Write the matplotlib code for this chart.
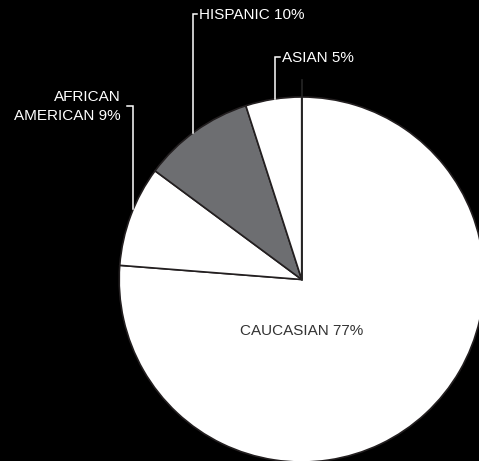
import numpy as np
import matplotlib
matplotlib.use("Agg")
import matplotlib.pyplot as plt

# Ethnic composition
groups = ["CAUCASIAN", "AFRICAN AMERICAN", "HISPANIC", "ASIAN"]
shares = [77, 9, 10, 5]
colors = ["#ffffff", "#ffffff", "#6d6e71", "#ffffff"]

W, H = 479, 461
fig = plt.figure(figsize=(W / 100, H / 100), dpi=100, facecolor="black")
ax = fig.add_axes([0, 0, 1, 1])
ax.set_facecolor("black")

cx, cy, r = 301.7, 279.5, 182.5

# y axis runs downward (pixel-style), so -90 points up and the
# "counterclockwise" direction sweeps clockwise on screen
wedges, _ = ax.pie(shares, colors=colors, startangle=-90, counterclock=True,
                   center=(cx, cy), radius=r, frame=True,
                   wedgeprops=dict(edgecolor="#231f20", linewidth=1.2))
ax.set_xlim(0, W)
ax.set_ylim(H, 0)
ax.set_aspect("equal")
ax.axis("off")

# divider continuing above the pie
ax.plot([cx, cx], [cy, 80], color="#262626", lw=1.2, zorder=3)

font = "Liberation Sans"
fs = 11

def edge_y(x):
    return cy - np.sqrt(r ** 2 - (x - cx) ** 2)

def leader(xv, ytop, xtick_end):
    ax.plot([xtick_end, xv, xv], [ytop, ytop, edge_y(xv)],
            color="white", lw=1.1, solid_joinstyle="miter", zorder=4)

# labels with bracket leaders
ax.text(199, 15, f"{groups[2]} {shares[2]}%", color="white", fontsize=fs,
        family=font, ha="left", va="center")
leader(193.3, 14.5, 197)

ax.text(282, 58, f"{groups[3]} {shares[3]}%", color="white", fontsize=fs,
        family=font, ha="left", va="center")
leader(275, 57.5, 280)

ax.text(121, 96.5, "AFRICAN", color="white", fontsize=fs, family=font,
        ha="right", va="center")
ax.text(121, 115.5, f"AMERICAN {shares[1]}%", color="white", fontsize=fs,
        family=font, ha="right", va="center")
leader(133.3, 106, 127.5)

ax.text(302, 331, f"{groups[0]} {shares[0]}%", color="#333333", fontsize=fs,
        family=font, ha="center", va="center")

fig.savefig("out.png", dpi=100, facecolor="black")
